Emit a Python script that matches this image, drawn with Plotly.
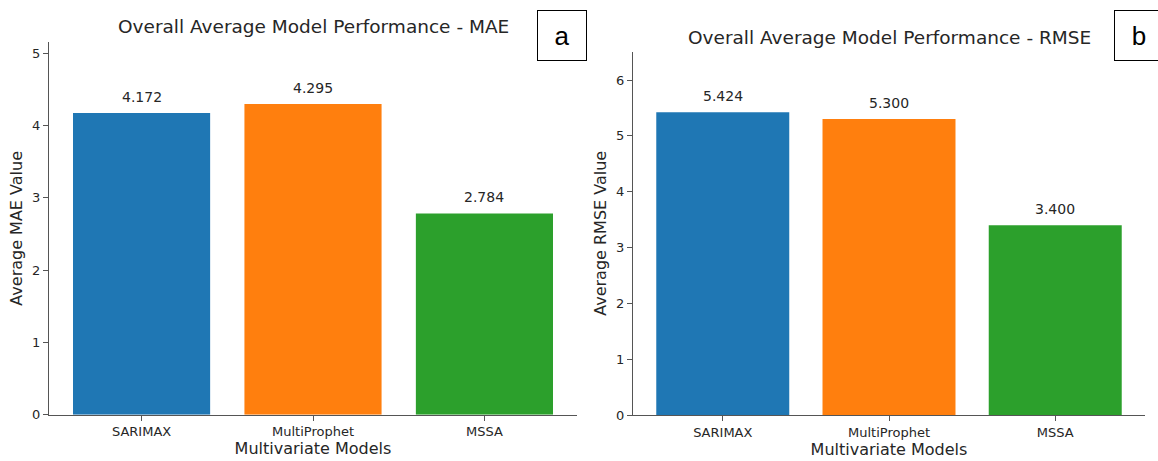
import plotly.graph_objects as go

# Model comparison data
models = ["SARIMAX", "MultiProphet", "MSSA"]
mae_values = [4.172, 4.295, 2.784]
rmse_values = [5.424, 5.300, 3.400]
bar_colors = ["#1f77b4", "#ff7f0e", "#2ca02c"]

W, H = 1158, 461
TEXT = "#262626"
FONT = "DejaVu Sans"


def px_x(p):
    return p / W


def px_y(p):
    return 1 - p / H


fig = go.Figure()

fig.add_trace(go.Bar(x=models, y=mae_values, marker=dict(color=bar_colors, line=dict(width=0)),
                     width=0.8, xaxis="x", yaxis="y", showlegend=False, hoverinfo="x+y"))
fig.add_trace(go.Bar(x=models, y=rmse_values, marker=dict(color=bar_colors, line=dict(width=0)),
                     width=0.8, xaxis="x2", yaxis="y2", showlegend=False, hoverinfo="x+y"))

axis_common = dict(
    showline=True, linecolor="#555555", linewidth=1.2, mirror=False,
    ticks="outside", ticklen=5, tickcolor="#555555", tickwidth=1,
    showgrid=False, zeroline=False, automargin=False,
    tickfont=dict(family=FONT, size=13, color=TEXT),
)
title_font = dict(family=FONT, size=16, color=TEXT)

left_dom = [px_x(49), px_x(577)]
right_dom = [px_x(633), px_x(1145)]

fig.update_layout(
    width=W, height=H,
    margin=dict(l=0, r=0, t=0, b=0, autoexpand=False),
    paper_bgcolor="white", plot_bgcolor="white",
    bargap=0.2,
    xaxis=dict(domain=left_dom, range=[-0.54, 2.54], anchor="y",
               title=dict(text="Multivariate Models", font=title_font, standoff=4),
               **axis_common),
    yaxis=dict(domain=[px_y(414.7), px_y(42)], range=[0, max(mae_values) * 1.2], anchor="x",
               dtick=1, tickformat="d",
               title=dict(text="Average MAE Value", font=title_font, standoff=5),
               **axis_common),
    xaxis2=dict(domain=right_dom, range=[-0.54, 2.54], anchor="y2",
                title=dict(text="Multivariate Models", font=title_font, standoff=4),
                **axis_common),
    yaxis2=dict(domain=[px_y(415), px_y(51.6)], range=[0, max(rmse_values) * 1.2], anchor="x2",
                dtick=1, tickformat="d",
                title=dict(text="Average RMSE Value", font=title_font, standoff=5),
                **axis_common),
)

annotations = []
# value labels above each bar
for xa, ya, vals in (("x", "y", mae_values), ("x2", "y2", rmse_values)):
    for m, v in zip(models, vals):
        annotations.append(dict(x=m, y=v, xref=xa, yref=ya, text=f"{v:.3f}", showarrow=False,
                                yanchor="bottom", yshift=6,
                                font=dict(family=FONT, size=14, color=TEXT)))

# panel titles
annotations.append(dict(x=(left_dom[0] + left_dom[1]) / 2, y=px_y(27), xref="paper", yref="paper",
                        text="Overall Average Model Performance - MAE", showarrow=False,
                        xanchor="center", yanchor="middle",
                        font=dict(family=FONT, size=18.5, color=TEXT)))
annotations.append(dict(x=(right_dom[0] + right_dom[1]) / 2, y=px_y(38), xref="paper", yref="paper",
                        text="Overall Average Model Performance - RMSE", showarrow=False,
                        xanchor="center", yanchor="middle",
                        font=dict(family=FONT, size=18.5, color=TEXT)))

# panel letters in boxes
for letter, cx, cy in (("a", 562, 36), ("b", 1139, 35.5)):
    annotations.append(dict(x=px_x(cx), y=px_y(cy), xref="paper", yref="paper", text=letter,
                            showarrow=False, xanchor="center", yanchor="middle",
                            width=48, height=49, bordercolor="#000000", borderwidth=1,
                            borderpad=0, bgcolor="white",
                            font=dict(family="Liberation Sans", size=26, color="#000000")))

fig.update_layout(annotations=annotations)

fig.write_html("out.html")
